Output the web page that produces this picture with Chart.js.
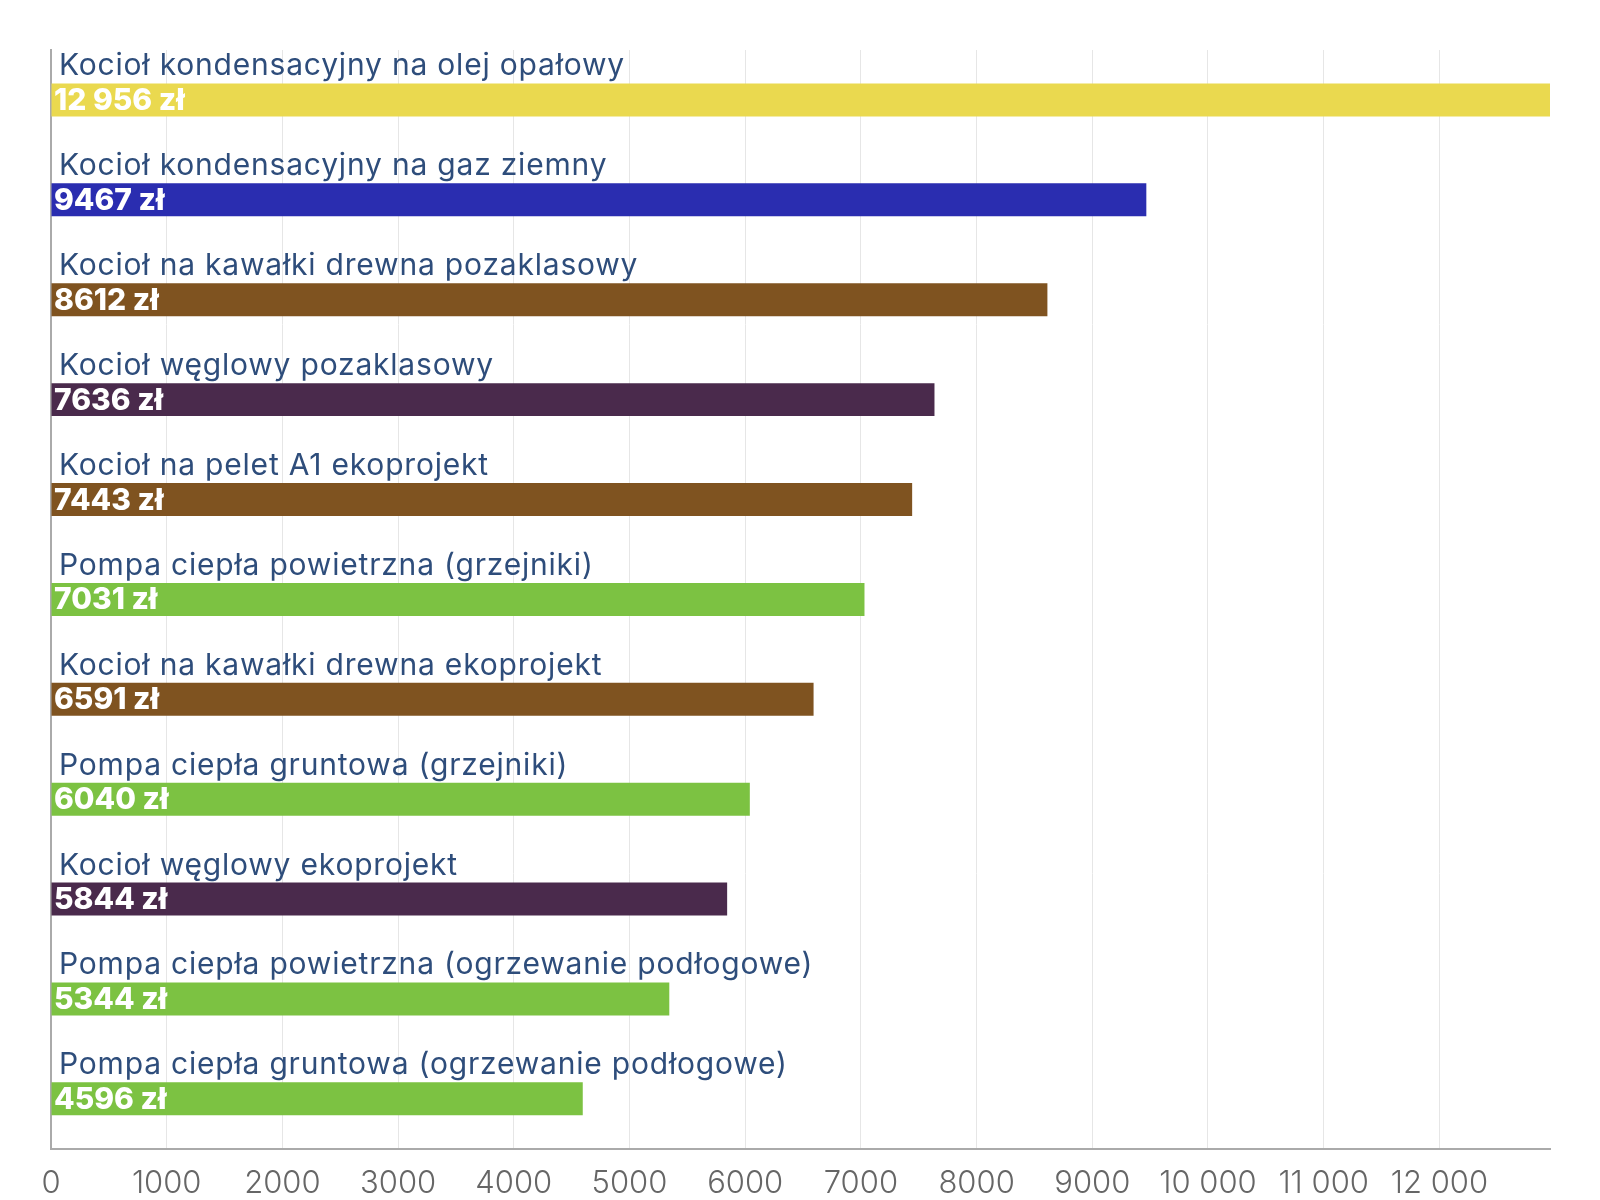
<!DOCTYPE html>
<html>
<head>
<meta charset="utf-8">
<script src="https://cdn.jsdelivr.net/npm/chart.js@4"></script>
<style>
  html, body { margin: 0; padding: 0; background: #fff; }
  #wrap { width: 1600px; height: 1200px; }
</style>
</head>
<body>
<div id="wrap"><canvas id="costChart" width="1600" height="1200"></canvas></div>
<script>
// heating systems, most expensive first
const categories = [
    'Kocioł kondensacyjny na olej opałowy',
    'Kocioł kondensacyjny na gaz ziemny',
    'Kocioł na kawałki drewna pozaklasowy',
    'Kocioł węglowy pozaklasowy',
    'Kocioł na pelet A1 ekoprojekt',
    'Pompa ciepła powietrzna (grzejniki)',
    'Kocioł na kawałki drewna ekoprojekt',
    'Pompa ciepła gruntowa (grzejniki)',
    'Kocioł węglowy ekoprojekt',
    'Pompa ciepła powietrzna (ogrzewanie podłogowe)',
    'Pompa ciepła gruntowa (ogrzewanie podłogowe)'
];
const costs = [12956, 9467, 8612, 7636, 7443, 7031, 6591, 6040, 5844, 5344, 4596];
const tickValues = [0, 1000, 2000, 3000, 4000, 5000, 6000, 7000, 8000, 9000, 10000, 11000, 12000];

const barColors = [
    '#EAD94F', '#2A2DB0', '#7F5320', '#4A2A4C', '#7F5320', '#7CC242',
    '#7F5320', '#7CC242', '#4A2A4C', '#7CC242', '#7CC242'
];

const FONT = 'Inter, "Open Sans", sans-serif';

// 4-digit numbers without separator, 5-digit with a space (like pl-PL)
function fmt(v) {
    const s = String(v);
    if (s.length < 5) return s;
    return s.slice(0, s.length - 3) + ' ' + s.slice(-3);
}

// category name above each bar + value inside it
const barText = {
    id: 'barText',
    afterDatasetsDraw(chart) {
        const ctx = chart.ctx;
        const left = chart.chartArea.left;
        const meta = chart.getDatasetMeta(0);
        ctx.save();
        meta.data.forEach(function (bar, i) {
            const top = bar.y - bar.height / 2;
            ctx.textAlign = 'left';
            ctx.textBaseline = 'alphabetic';
            ctx.fillStyle = '#2E4D7B';
            ctx.font = '400 30px ' + FONT;
            ctx.letterSpacing = '0.8px';
            ctx.fillText(categories[i], left + 8, top - 8);

            ctx.textBaseline = 'middle';
            ctx.fillStyle = '#ffffff';
            ctx.font = '800 30px ' + FONT;
            ctx.letterSpacing = '0px';
            ctx.fillText(fmt(costs[i]) + ' zł', left + 3, bar.y + 1);
        });
        ctx.restore();
    }
};

const ctx = document.getElementById('costChart').getContext('2d');

new Chart(ctx, {
    type: 'bar',
    data: {
        labels: categories,
        datasets: [{
            data: costs,
            backgroundColor: barColors,
            borderWidth: 0,
            categoryPercentage: 1,
            barPercentage: 0.33
        }]
    },
    options: {
        indexAxis: 'y',
        responsive: false,
        animation: false,
        layout: { padding: { top: 50, right: 50, bottom: -18, left: 51 } },
        plugins: {
            legend: { display: false },
            tooltip: { enabled: false }
        },
        scales: {
            x: {
                min: 0,
                max: Math.max(...costs),
                afterBuildTicks(axis) {
                    axis.ticks = tickValues.map(v => ({ value: v }));
                },
                grid: { color: '#e6e6e6', lineWidth: 1, drawTicks: false },
                border: { color: '#aaaaaa', width: 2 },
                ticks: {
                    color: '#666666',
                    font: { family: FONT, size: 31, weight: '300' },
                    padding: 16,
                    maxRotation: 0,
                    autoSkip: false,
                    callback: v => fmt(v)
                }
            },
            y: {
                grid: { display: false, drawTicks: false },
                border: { color: '#aaaaaa', width: 2 },
                ticks: { display: false }
            }
        }
    },
    plugins: [barText]
});
</script>
</body>
</html>
